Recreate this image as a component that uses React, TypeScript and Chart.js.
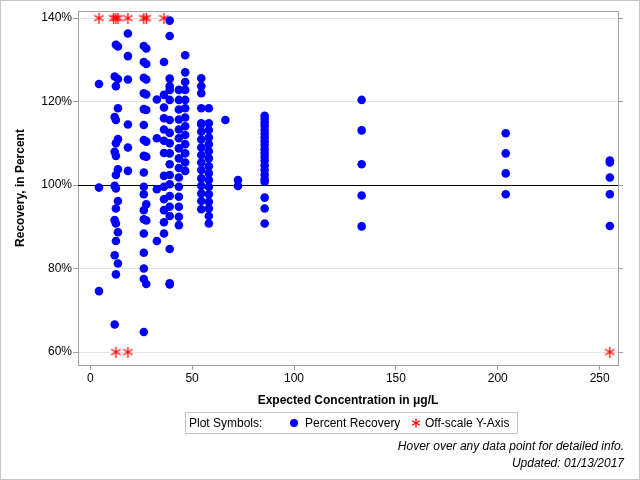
import React, { useEffect, useRef } from 'react';
import { Chart, registerables } from 'chart.js';

Chart.register(...registerables);

// Expected concentration (µg/L) for each group of measurements
const concentrations = [
  4.3, 12.0, 12.6, 13.6, 18.5, 26.3, 27.5, 32.7, 36.2, 39.0,
  43.5, 46.6, 54.5, 58.2, 66.3, 72.5, 85.6, 133.2, 203.9, 255.0,
];

// Percent recovery values measured at each concentration (same order)
const recoveries = [
  [124.2, 99.4, 74.6],
  [126.0, 116.3, 108.0, 99.8, 91.6, 83.2, 66.6],
  [133.6, 123.7, 115.6, 110.0, 107.0, 102.4, 99.2, 94.4, 90.8, 86.6, 78.6],
  [133.2, 125.4, 118.4, 111.0, 103.8, 96.2, 88.7, 81.2],
  [136.3, 130.9, 125.3, 114.5, 109.0, 103.4],
  [133.3, 129.5, 125.7, 122.0, 118.2, 114.4, 110.8, 107.0, 103.0, 99.6, 97.8, 94.0, 91.8, 88.4, 83.8, 80.0, 77.5, 64.8],
  [132.7, 129.0, 125.3, 121.7, 118.0, 110.4, 106.8, 95.4, 91.5, 76.3],
  [120.5, 111.2, 99.0, 86.6],
  [129.5, 121.6, 118.6, 116.0, 113.3, 110.6, 107.7, 102.2, 99.6, 96.6, 94.0, 91.1, 88.4],
  [139.4, 135.7, 125.5, 123.7, 122.8, 120.4, 115.6, 112.5, 110.0, 107.6, 105.0, 102.4, 100.2, 97.4, 94.8, 92.6, 84.7, 76.5, 76.2],
  [122.8, 120.4, 118.1, 115.7, 113.3, 111.2, 108.8, 106.4, 104.1, 101.8, 99.6, 97.2, 94.8, 92.4, 90.4],
  [131.1, 127.0, 124.7, 122.8, 120.4, 118.4, 116.2, 114.1, 112.0, 109.8, 107.6, 105.4, 103.4],
  [125.6, 123.7, 122.0, 118.4, 114.8, 114.5, 112.8, 110.9, 109.0, 107.2, 105.4, 103.6, 101.6, 99.8, 98.0, 96.2, 94.2],
  [118.4, 114.8, 113.2, 111.4, 109.8, 108.1, 106.4, 104.5, 102.8, 101.2, 99.6, 97.8, 96.0, 94.4, 92.6, 90.8],
  [115.6],
  [101.2, 99.8],
  [116.6, 115.8, 115.0, 114.2, 113.2, 112.3, 111.4, 110.5, 109.6, 108.6, 107.7, 106.8, 105.8, 104.7, 103.6, 102.5, 101.4, 100.8, 97.0, 94.4, 90.8],
  [120.4, 113.1, 105.0, 97.5, 90.1],
  [112.4, 107.6, 102.8, 97.8],
  [105.9, 105.4, 101.8, 97.8, 90.2],
];

// Off-scale points: concentrations whose recovery is above / below the axis
const offscaleHighConc = [4.3, 11.5, 12.6, 13.6, 18.5, 26.3, 27.5, 36.2];
const offscaleLowConc = [12.6, 18.5, 255.0];
const offscaleHighValue = 140;
const offscaleLowValue = 60;

const xTicks = [0, 50, 100, 150, 200, 250];
const yTicks = [60, 80, 100, 120, 140];
const referenceValue = 100;

const FONT = '"Liberation Sans", Arial, Helvetica, sans-serif';
const AXIS_GRAY = '#a0a0a0';

function makeStar(color: string, size: number): HTMLCanvasElement {
  const c = document.createElement('canvas');
  c.width = size;
  c.height = size;
  const g = c.getContext('2d')!;
  const r = size / 2 - 0.5;
  const cx = size / 2;
  g.strokeStyle = color;
  g.lineWidth = 1.3;
  g.lineCap = 'round';
  [90, 30, 150].forEach((deg) => {
    const a = (deg * Math.PI) / 180;
    g.beginPath();
    g.moveTo(cx - r * Math.cos(a), cx - r * Math.sin(a));
    g.lineTo(cx + r * Math.cos(a), cx + r * Math.sin(a));
    g.stroke();
  });
  return c;
}

function StarIcon() {
  const lines = [90, 30, 150].map((deg) => {
    const a = (deg * Math.PI) / 180;
    const r = 4;
    return (
      <line
        key={deg}
        x1={5 - r * Math.cos(a)}
        y1={5 - r * Math.sin(a)}
        x2={5 + r * Math.cos(a)}
        y2={5 + r * Math.sin(a)}
        stroke="#ff0000"
        strokeWidth={1.3}
        strokeLinecap="round"
      />
    );
  });
  return (
    <svg width={10} height={10} style={{ position: 'absolute', left: 225, top: 5 }}>
      {lines}
    </svg>
  );
}

export default function App() {
  const ref = useRef<HTMLCanvasElement>(null);

  useEffect(() => {
    if (!ref.current) return;
    const star = makeStar('#ff0000', 11);

    const points = concentrations.flatMap((c, i) => recoveries[i].map((r) => ({ x: c, y: r })));
    const offscale = [
      ...offscaleHighConc.map((x) => ({ x, y: offscaleHighValue })),
      ...offscaleLowConc.map((x) => ({ x, y: offscaleLowValue })),
    ];

    const framePlugin = {
      id: 'frameAndRef',
      beforeDatasetsDraw(chart: any) {
        const { ctx, chartArea, scales } = chart;
        const { left, right, top } = chartArea;
        ctx.save();
        ctx.lineWidth = 1;
        ctx.strokeStyle = AXIS_GRAY;
        ctx.beginPath();
        ctx.moveTo(left, Math.round(top) + 0.5);
        ctx.lineTo(right, Math.round(top) + 0.5);
        ctx.stroke();
        const py = Math.round(scales.y.getPixelForValue(referenceValue)) + 0.5;
        ctx.strokeStyle = '#000000';
        ctx.beginPath();
        ctx.moveTo(left, py);
        ctx.lineTo(right, py);
        ctx.stroke();
        ctx.restore();
      },
    };

    const tickFont = { family: FONT, size: 12 };
    const titleFont = { family: FONT, size: 12, weight: 'bold' as const };

    const chart = new Chart(ref.current, {
      type: 'scatter',
      data: {
        datasets: [
          {
            label: 'Percent Recovery',
            data: points,
            pointStyle: 'circle',
            pointRadius: 4.3,
            backgroundColor: '#0000ff',
            borderColor: '#0000ff',
            borderWidth: 0,
          },
          {
            label: 'Off-scale Y-Axis',
            data: offscale,
            pointStyle: star as any,
            pointRadius: 5,
            backgroundColor: '#ff0000',
            borderColor: '#ff0000',
          },
        ],
      },
      options: {
        animation: false,
        responsive: false,
        events: [],
        layout: { padding: { left: 0, top: 11, right: 16, bottom: 72 } },
        plugins: { legend: { display: false }, tooltip: { enabled: false } },
        scales: {
          x: {
            type: 'linear',
            min: -6,
            max: 259,
            afterBuildTicks: (s: any) => {
              s.ticks = xTicks.map((v) => ({ value: v }));
            },
            afterFit: (s: any) => {
              s.height = 43;
            },
            grid: { drawOnChartArea: false, tickLength: 5, tickColor: AXIS_GRAY },
            border: { color: AXIS_GRAY },
            ticks: { font: tickFont, color: '#000', padding: 1, maxRotation: 0 },
            title: {
              display: true,
              text: 'Expected Concentration in μg/L',
              font: titleFont,
              color: '#000',
              padding: { top: 0, bottom: 0 },
            },
          },
          y: {
            type: 'linear',
            min: 56.9,
            max: 141.7,
            afterBuildTicks: (s: any) => {
              s.ticks = yTicks.map((v) => ({ value: v }));
            },
            afterFit: (s: any) => {
              s.width = 78;
            },
            grid: {
              color: (ctx: any) =>
                ctx.tick && ctx.tick.value === referenceValue ? 'rgba(0,0,0,0)' : '#e4e4e4',
              tickLength: 5,
              tickColor: AXIS_GRAY,
            },
            border: { color: AXIS_GRAY },
            ticks: { font: tickFont, color: '#000', padding: 1, callback: (v: any) => `${v}%` },
            title: {
              display: true,
              text: 'Recovery, in Percent',
              font: titleFont,
              color: '#000',
              padding: { top: 13, bottom: 0 },
            },
          },
          y2: {
            type: 'linear',
            position: 'right',
            min: 56.9,
            max: 141.7,
            afterBuildTicks: (s: any) => {
              s.ticks = yTicks.map((v) => ({ value: v }));
            },
            afterFit: (s: any) => {
              s.width = 6;
            },
            grid: { drawOnChartArea: false, tickLength: 5, tickColor: AXIS_GRAY },
            border: { color: AXIS_GRAY },
            ticks: { display: false },
          },
        },
      },
      plugins: [framePlugin],
    });

    return () => chart.destroy();
  }, []);

  const textStyle: React.CSSProperties = {
    position: 'absolute',
    whiteSpace: 'nowrap',
    fontFamily: FONT,
    fontSize: 12,
    lineHeight: '14px',
    color: '#000',
  };

  return (
    <div
      style={{
        position: 'fixed',
        left: 0,
        top: 0,
        width: 640,
        height: 480,
        background: '#fff',
        overflow: 'hidden',
      }}
    >
      <canvas ref={ref} width={640} height={480} style={{ display: 'block' }} />
      <div
        style={{
          position: 'absolute',
          left: 185,
          top: 412,
          width: 333,
          height: 22,
          border: '1px solid #c4c4c4',
          boxSizing: 'border-box',
        }}
      >
        <span style={{ ...textStyle, left: 3, top: 3 }}>Plot Symbols:</span>
        <span
          style={{
            position: 'absolute',
            left: 104,
            top: 6,
            width: 8,
            height: 8,
            borderRadius: '50%',
            background: '#0000ff',
          }}
        />
        <span style={{ ...textStyle, left: 119, top: 3 }}>Percent Recovery</span>
        <StarIcon />
        <span style={{ ...textStyle, left: 239, top: 3 }}>Off-scale Y-Axis</span>
      </div>
      <div style={{ ...textStyle, right: 16, top: 439, fontStyle: 'italic' }}>
        Hover over any data point for detailed info.
      </div>
      <div style={{ ...textStyle, right: 16, top: 456, fontStyle: 'italic' }}>Updated: 01/13/2017</div>
      <div
        style={{
          position: 'absolute',
          left: 0,
          top: 0,
          width: 640,
          height: 480,
          border: '1px solid #c4c4c4',
          boxSizing: 'border-box',
          pointerEvents: 'none',
        }}
      />
    </div>
  );
}
